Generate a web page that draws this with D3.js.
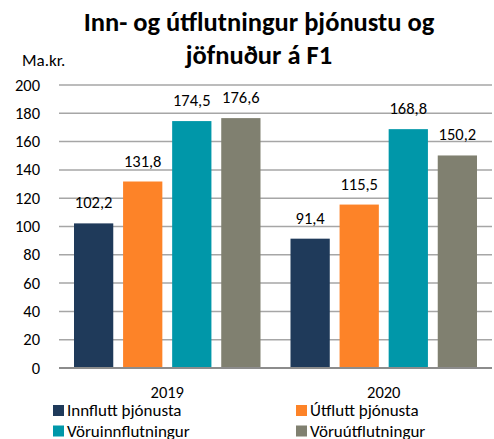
<!DOCTYPE html>
<html>
<head>
<meta charset="utf-8">
<script src="https://cdn.jsdelivr.net/npm/d3@7"></script>
<style>
  body { margin: 0; background: #fff; }
  svg { font-family: Carlito, Lato, sans-serif; }
</style>
</head>
<body>
<svg width="494" height="439"></svg>
<script>
// data
const years = ["2019", "2020"];
const series = ["Innflutt þjónusta", "Útflutt þjónusta", "Vöruinnflutningur", "Vöruútflutningur"];
const values = [
    [102.2, 131.8, 174.5, 176.6],
    [91.4, 115.5, 168.8, 150.2]
];
const yTicks = [0, 20, 40, 60, 80, 100, 120, 140, 160, 180, 200];
const colors = ["#1f3a5a", "#fd8328", "#0097a9", "#808070"];

const svg = d3.select("svg");
const plotLeft = 59, plotRight = 492, plotTop = 85, plotBottom = 368;

const x0 = d3.scaleBand().domain(years).range([plotLeft, plotRight]).paddingInner(0).paddingOuter(0);
const x1 = d3.scaleBand().domain(series).range([15, x0.bandwidth() - 15]).paddingInner(0.2).paddingOuter(0);
const y = d3.scaleLinear().domain([0, 200]).range([plotBottom, plotTop]);

// gridlines
svg.append("g")
    .selectAll("line")
    .data(yTicks.slice(1))
    .enter().append("line")
    .attr("x1", plotLeft).attr("x2", plotRight)
    .attr("y1", d => y(d)).attr("y2", d => y(d))
    .attr("stroke", "#a6a6a6")
    .attr("stroke-width", 1.5);

// y axis labels
svg.append("g")
    .selectAll("text")
    .data(yTicks)
    .enter().append("text")
    .attr("x", 40)
    .attr("y", d => y(d) + 5.5)
    .attr("text-anchor", "end")
    .attr("font-size", 16.5)
    .attr("fill", "#000")
    .text(d => d);

// bars
const groups = svg.selectAll(".grp")
    .data(years)
    .enter().append("g")
    .attr("transform", d => `translate(${x0(d)},0)`);

groups.selectAll("rect")
    .data((d, i) => values[i].map((v, j) => ({ s: series[j], v: v, c: colors[j] })))
    .enter().append("rect")
    .attr("x", d => x1(d.s))
    .attr("width", x1.bandwidth())
    .attr("y", d => y(d.v))
    .attr("height", d => y(0) - y(d.v))
    .attr("fill", d => d.c);

groups.selectAll("text.lbl")
    .data((d, i) => values[i].map((v, j) => ({ s: series[j], v: v })))
    .enter().append("text")
    .attr("class", "lbl")
    .attr("x", d => x1(d.s) + x1.bandwidth() / 2)
    .attr("y", d => y(d.v) - 15)
    .attr("text-anchor", "middle")
    .attr("font-size", 16.5)
    .text(d => d3.format(".1f")(d.v).replace(".", ","));

// baseline
svg.append("line")
    .attr("x1", plotLeft).attr("x2", plotRight)
    .attr("y1", y(0)).attr("y2", y(0))
    .attr("stroke", "#8c8c8c")
    .attr("stroke-width", 2);

// year labels
svg.selectAll(".yr")
    .data(years)
    .enter().append("text")
    .attr("x", d => x0(d) + x0.bandwidth() / 2)
    .attr("y", 398)
    .attr("text-anchor", "middle")
    .attr("font-size", 16.5)
    .text(d => d);

// title
const title = svg.append("text")
    .attr("text-anchor", "middle")
    .attr("font-size", 26.5)
    .attr("font-weight", "bold");
title.append("tspan").attr("x", 259).attr("y", 31).text("Inn- og útflutningur þjónustu og");
title.append("tspan").attr("x", 259).attr("y", 64).text("jöfnuður á F1");

svg.append("text")
    .attr("x", 22).attr("y", 66)
    .attr("font-size", 17)
    .text("Ma.kr.");

// legend
const legend = svg.selectAll(".leg")
    .data(series)
    .enter().append("g")
    .attr("transform", (d, i) => `translate(${i % 2 ? 296 : 53},${i < 2 ? 416 : 436.5})`);
legend.append("rect")
    .attr("x", 0).attr("y", -11)
    .attr("width", 11).attr("height", 11)
    .attr("fill", (d, i) => colors[i]);
legend.append("text")
    .attr("x", 14)
    .attr("font-size", 17)
    .text(d => d);
</script>
</body>
</html>
